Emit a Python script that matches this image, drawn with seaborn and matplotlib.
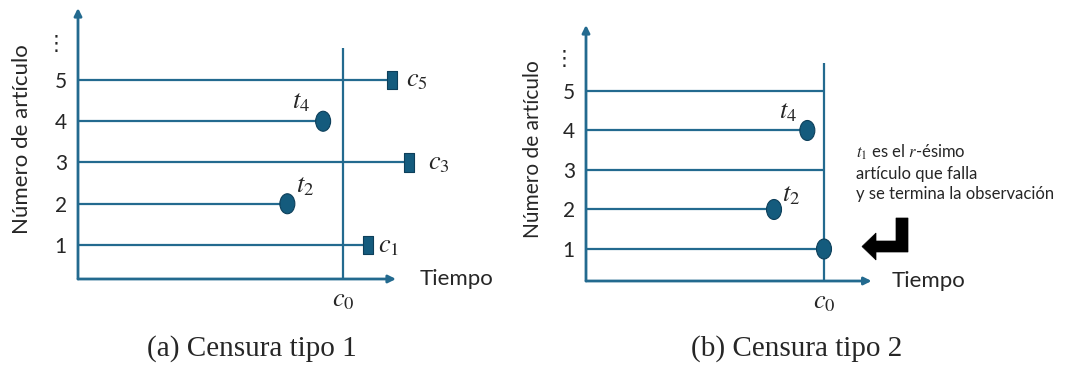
import matplotlib
matplotlib.use("Agg")
import matplotlib.pyplot as plt
import matplotlib.transforms as mtransforms
from matplotlib.path import Path
from matplotlib.patches import Polygon
import pandas as pd
import seaborn as sns

sns.set_theme(style="white")
plt.rcParams["font.family"] = ["Lato", "DejaVu Sans"]
plt.rcParams["mathtext.fontset"] = "stix"

# ---- data -------------------------------------------------------------
articulos = [1, 2, 3, 4, 5]
c0 = 10.0

# (a) type I censoring: fixed observation time c0
tiempos_a = [10.95, 7.9, 12.5, 9.25, 11.85]
estado_a = ["c", "f", "c", "f", "c"]          # c = censored, f = failure
etiquetas_a = ["$c_1$", "$t_2$", "$c_3$", "$t_4$", "$c_5$"]

# (b) type II censoring: stop at the r-th failure
tiempos_b = [10.0, 7.9, 10.0, 9.3, 10.0]
estado_b = ["f", "f", "n", "f", "n"]          # n = censored, no marker
etiquetas_b = [None, "$t_2$", None, "$t_4$", None]

ticks_y = ["1", "2", "3", "4", "5", "\u22ee"]
titulos = ["(a) Censura tipo 1", "(b) Censura tipo 2"]
nota_b = "$t_1$ es el $r$-ésimo\nartículo que falla\ny se termina la observación"

# ---- style ------------------------------------------------------------
W, H = 1068, 368
AZUL = "#236a8f"
RELLENO = "#145b7d"
BORDE = "#0d3f5a"

elipse = Path.unit_circle().transformed(mtransforms.Affine2D().scale(0.75, 1.0))
rect = Path([(-0.28, -0.5), (0.28, -0.5), (0.28, 0.5), (-0.28, 0.5), (-0.28, -0.5)],
            closed=True)

fig = plt.figure(figsize=(W / 100, H / 100), dpi=100)


def caja(left, top, width, height):
    return [left / W, 1 - (top + height) / H, width / W, height / H]


paneles = [
    dict(rect=caja(78, 8, 424, 271), xlim=(0, 16), ylim=(0.176, 6.745),
         tiempos=tiempos_a, estado=estado_a, etiquetas=etiquetas_a,
         c0_top=5.78, dots_y=5.92, tiempo_x=12.9, ylab_x=-56 / 424,
         offs={"f_4": (-16, 14), "f_2": (13, 13), "c_1": (15, 0),
               "c_3": (21, 0), "c_5": (18, 0)}, ylab_size=16),
    dict(rect=caja(586, 25, 476, 256), xlim=(0, 20), ylim=(0.19, 6.67),
         tiempos=tiempos_b, estado=estado_b, etiquetas=etiquetas_b,
         c0_top=5.71, dots_y=5.86, tiempo_x=12.86, ylab_x=-53 / 476,
         offs={"f_4": (-14, 14), "f_2": (12, 11)}, ylab_size=15),
]
eje_fin = 12.0

for p in paneles:
    ax = fig.add_axes(p["rect"])
    ax.set_xlim(*p["xlim"])
    ax.set_ylim(*p["ylim"])
    for s in ax.spines.values():
        s.set_visible(False)
    y0 = p["ylim"][0]

    df = pd.DataFrame({"articulo": articulos, "tiempo": p["tiempos"],
                       "estado": p["estado"]})

    # item lifelines
    ax.hlines(df["articulo"], 0, df["tiempo"], color=AZUL, lw=1.6, zorder=2)
    # observation limit c0
    ax.vlines(c0, y0, p["c0_top"], color=AZUL, lw=1.6, zorder=2)

    marcados = df[df["estado"] != "n"]
    sns.scatterplot(data=marcados, x="tiempo", y="articulo", style="estado",
                    markers={"f": elipse, "c": rect}, size="estado",
                    sizes={"f": 207, "c": 170}, color=RELLENO,
                    edgecolor=BORDE, linewidth=0.8, legend=False, ax=ax,
                    zorder=4, clip_on=False)

    # labels next to markers
    for a, t, e, lab in zip(articulos, p["tiempos"], p["estado"], p["etiquetas"]):
        if lab is None:
            continue
        off = p["offs"].get(f"{e}_{a}", (18, 0))
        ax.annotate(lab, (t, a), xytext=off, textcoords="offset points",
                    ha="center", va="center", fontsize=19)

    # axes with arrow heads
    flecha = dict(arrowstyle="-|>", color=AZUL, lw=2, mutation_scale=11,
                  shrinkA=0, shrinkB=0)
    ax.annotate("", xy=(eje_fin, y0), xytext=(0, y0), arrowprops=flecha,
                annotation_clip=False)
    ax.annotate("", xy=(0, p["ylim"][1]), xytext=(0, y0), arrowprops=flecha,
                annotation_clip=False)

    ax.set_yticks(articulos + [p["dots_y"]], labels=ticks_y)
    ax.set_xticks([c0], labels=["$c_0$"])
    ax.tick_params(axis="y", length=0, pad=8, labelsize=15)
    ax.tick_params(axis="x", length=0, pad=6, labelsize=19)
    ax.set_xlabel("")
    ax.set_ylabel("Número de artículo", fontsize=p["ylab_size"], va="center")
    ax.yaxis.set_label_coords(p["ylab_x"], 0.515)
    ax.text(p["tiempo_x"], y0, "Tiempo", ha="left", va="center", fontsize=16)

# captions
for xc, titulo in zip([252, 797], titulos):
    fig.text(xc / W, 1 - 349 / H, titulo, ha="center", va="center",
             family="Liberation Serif", fontsize=21)

# note and bent arrow for panel (b)
fig.text(856 / W, 1 - 143 / H, nota_b, ha="left", va="top", fontsize=12,
         linespacing=1.3)
flecha_b = [(862, 246.5), (876, 233), (876, 241), (896, 241), (896, 218),
            (908, 218), (908, 252), (876, 252), (876, 260)]
fig.add_artist(Polygon([(x / W, 1 - y / H) for x, y in flecha_b], closed=True,
                       transform=fig.transFigure, facecolor="black",
                       edgecolor="black", lw=0.5))

fig.savefig("out.png", dpi=100)
